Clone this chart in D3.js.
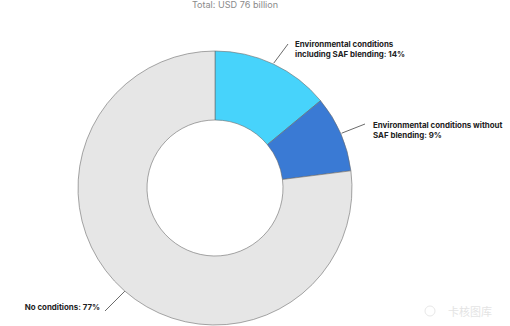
<!DOCTYPE html>
<html><head><meta charset="utf-8">
<script src="https://cdn.jsdelivr.net/npm/d3@7"></script>
<style>body{margin:0;background:#fff}svg{display:block}</style>
</head><body>
<script>
const categories = ["Environmental conditions including SAF blending", "Environmental conditions without SAF blending", "No conditions"];
const values = [14, 9, 77];
const colors = ["#47d3fb", "#3a7ad4", "#e6e6e6"];
const labelLines = [["Environmental conditions", "including SAF blending: 14%"], ["Environmental conditions without", "SAF blending: 9%"], ["No conditions: 77%"]];
const title = "Total: USD 76 billion";

const W = 510, H = 326, cx = 215, cy = 188, R = 137, r = 68;
const svg = d3.select("body").append("svg").attr("width", W).attr("height", H);

svg.append("text").attr("x", 235).attr("y", 8).attr("text-anchor", "middle")
  .attr("font-family", "Inter, 'Noto Sans', sans-serif").attr("font-size", 9.1).attr("fill", "#8a8a8a").text(title);

const pie = d3.pie().sort(null).value(d => d)(values);
const arc = d3.arc().innerRadius(r).outerRadius(R);
const g = svg.append("g").attr("transform", `translate(${cx},${cy})`);
g.selectAll("path").data(pie).join("path").attr("d", arc)
  .attr("fill", (d, i) => colors[i]).attr("stroke", "#6b6b6b").attr("stroke-width", 0.6);

// leader lines and labels
const leaders = [
  {len: 138, end: [288, 44], tx: 295, ty: 47},
  {len: 138, end: [365, 124], tx: 373, ty: 128},
  {a: 3.86, len: 137, end: [105, 311], tx: 100, ty: 310, anchor: "end"}
];
const lab = svg.append("g").attr("font-family", "Inter, 'Noto Sans', sans-serif").attr("font-weight", "bold").attr("font-size", 7.9).attr("fill", "#222");
pie.forEach((d, i) => {
  const L = leaders[i];
  const a = L.a !== undefined ? L.a : (d.startAngle + d.endAngle) / 2;
  const p1 = [cx + Math.sin(a) * L.len, cy - Math.cos(a) * L.len];
  svg.append("line").attr("x1", p1[0]).attr("y1", p1[1]).attr("x2", L.end[0]).attr("y2", L.end[1])
    .attr("stroke", "#444").attr("stroke-width", 0.8);
  const t = lab.append("text").attr("x", L.tx).attr("y", L.ty).attr("text-anchor", L.anchor || "start");
  labelLines[i].forEach((s, k) => t.append("tspan").attr("x", L.tx).attr("dy", k ? 9.5 : 0).text(s));
});

// watermark
svg.append("text").attr("x", 448).attr("y", 316).attr("font-family", "'Noto Sans CJK SC'")
  .attr("font-size", 11).attr("fill", "#e4e4e4").text("卡核图库");
svg.append("circle").attr("cx", 430).attr("cy", 311).attr("r", 5).attr("fill", "none").attr("stroke", "#e8e8e8");
</script>
</body></html>
